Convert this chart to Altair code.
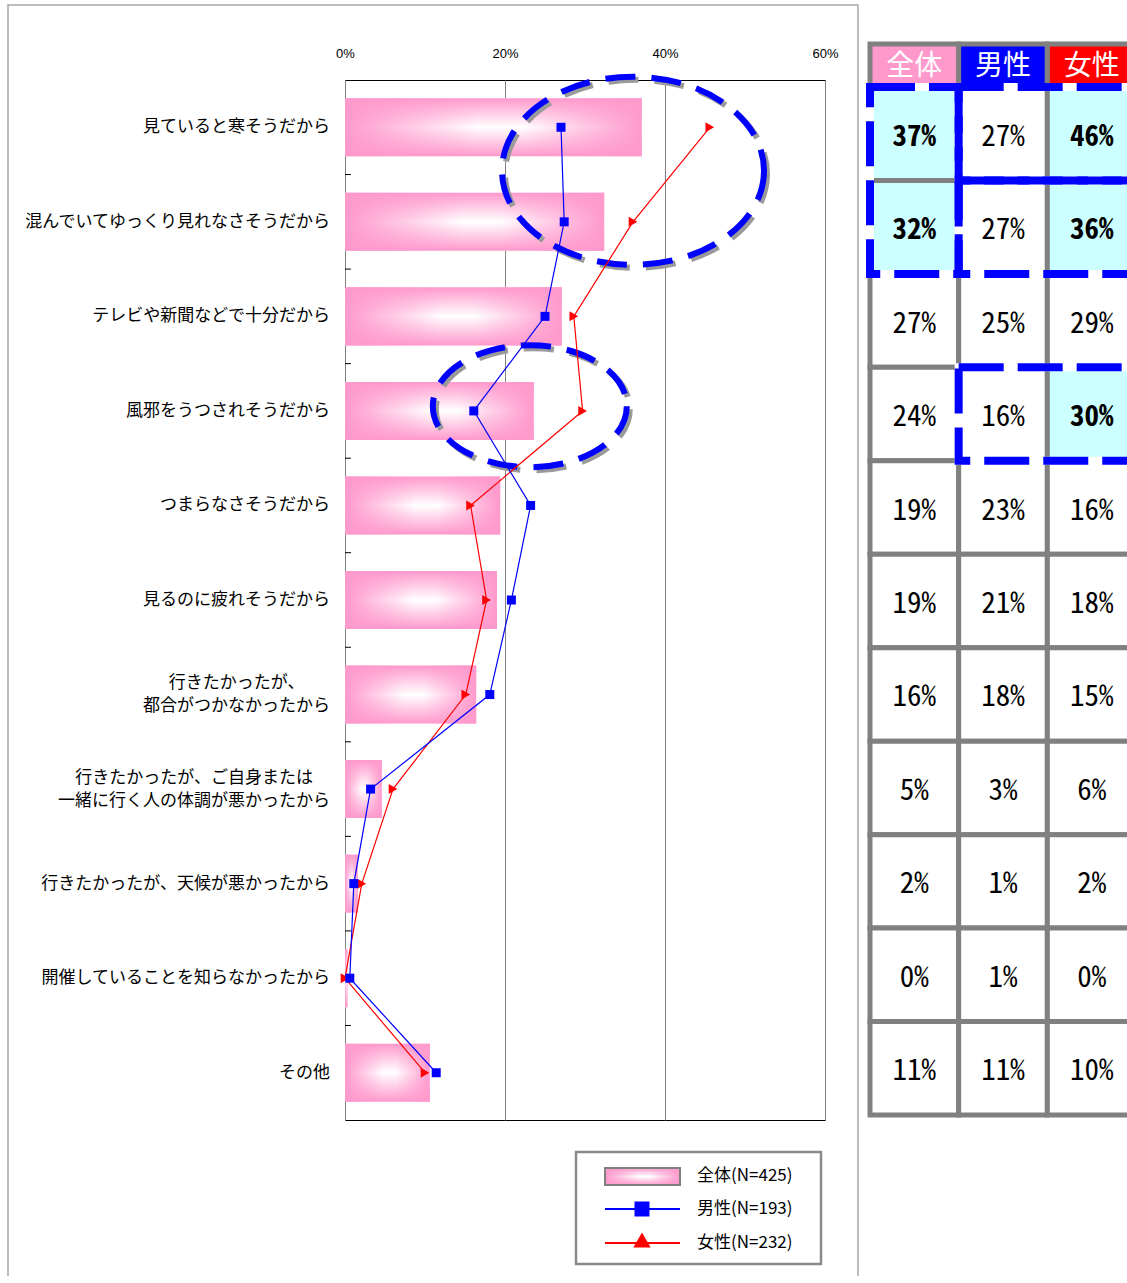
import altair as alt
import pandas as pd

# ---------------- data ----------------
categories = [
    "見ていると寒そうだから",
    "混んでいてゆっくり見れなさそうだから",
    "テレビや新聞などで十分だから",
    "風邪をうつされそうだから",
    "つまらなさそうだから",
    "見るのに疲れそうだから",
    "行きたかったが、\n都合がつかなかったから",
    "行きたかったが、ご自身または\n一緒に行く人の体調が悪かったから",
    "行きたかったが、天候が悪かったから",
    "開催していることを知らなかったから",
    "その他",
]
total = [37.1, 32.4, 27.1, 23.6, 19.4, 19.0, 16.4, 4.6, 1.6, 0.3, 10.6]
male = [27.0, 27.4, 25.0, 16.1, 23.2, 20.8, 18.1, 3.2, 1.1, 0.6, 11.4]
female = [45.6, 36.0, 28.6, 29.7, 15.7, 17.7, 15.1, 6.0, 2.1, 0.0, 10.0]
series = ["全体", "男性", "女性"]
sample_n = [425, 193, 232]
x_ticks = [0, 20, 40, 60]
highlight_threshold = 30

# ---------------- styles ----------------
JP = "Noto Sans CJK JP"
PINK = "#FF99CC"
BLUE = "#0000FF"
RED = "#FF0000"
GRAY = "#808080"
CYAN = "#CCFFFF"
NUM_FONT = "Noto Sans Mono CJK JP, Liberation Mono, monospace"
LABEL_SIZE = 17
LINE_H = 23
BAND_PX = 1040 / 11

grad_h = alt.LinearGradient(
    gradient="linear",
    stops=[
        alt.GradientStop(color=PINK, offset=0),
        alt.GradientStop(color="#FFFFFF", offset=0.45),
        alt.GradientStop(color="#FFFFFF", offset=0.6),
        alt.GradientStop(color=PINK, offset=1),
    ],
    x1=0, y1=0, x2=1, y2=0,
)
grad_v = alt.LinearGradient(
    gradient="linear",
    stops=[
        alt.GradientStop(color="rgba(255,153,204,1)", offset=0),
        alt.GradientStop(color="rgba(255,153,204,0)", offset=0.5),
        alt.GradientStop(color="rgba(255,153,204,1)", offset=1),
    ],
    x1=0, y1=0, x2=0, y2=1,
)

idx = list(range(len(categories)))
df_total = pd.DataFrame({"idx": idx, "v": total})
df_male = pd.DataFrame({"idx": idx, "v": male})
df_female = pd.DataFrame({"idx": idx, "v": female})
df_bound = pd.DataFrame({"b": [i + 0.5 for i in idx[:-1]]})
one = pd.DataFrame({"a": [0]})

x_scale = alt.Scale(domain=[0, 60], nice=False, zero=True)
y_scale = alt.Scale(domain=[-0.5, 10.5], reverse=True, nice=False, zero=False)

x_axis = alt.Axis(
    orient="top", values=x_ticks, labelExpr="datum.value + '%'", grid=True,
    gridColor=GRAY, gridWidth=1, ticks=False, domain=False, labelPadding=20,
    labelFontSize=13, labelFont="Liberation Sans", labelColor="black",
    labelFlush=False, title=None,
)

# outer chart-area frame
frame = alt.Chart(one).mark_rect(fill="transparent", stroke="#A6A6A6", strokeWidth=1.5).encode(
    x=alt.value(-337), x2=alt.value(513), y=alt.value(-75), y2=alt.value(1300)
)

bar_base = alt.Chart(df_total).transform_calculate(
    y0="datum.idx - 0.307", y1="datum.idx + 0.307", x0="0"
)
bars_h = bar_base.mark_rect(fill=grad_h).encode(
    x=alt.X("x0:Q", scale=x_scale, axis=x_axis),
    x2="v:Q",
    y=alt.Y("y0:Q", scale=y_scale, axis=None),
    y2="y1:Q",
)
bars_v = bar_base.mark_rect(fill=grad_v).encode(
    x=alt.X("x0:Q", title=None), x2="v:Q", y=alt.Y("y0:Q", title=None), y2="y1:Q"
)

yticks = alt.Chart(df_bound).mark_rule(color="black", strokeWidth=1).encode(
    x=alt.value(0), x2=alt.value(6), y=alt.Y("b:Q", title=None)
)

# category labels (multi-line labels centred as a block, right edge aligned)
label_rows = []
for i, cat in enumerate(categories):
    lines = cat.split("\n")
    n = len(lines)
    w = max(len(s) for s in lines)
    for j, s in enumerate(lines):
        label_rows.append({"idx": i, "off": j - (n - 1) / 2, "shift": (w - len(s)) / 2, "t": s})
df_labels = pd.DataFrame(label_rows)
label_layers = []
for sh in sorted(df_labels["shift"].unique()):
    label_layers.append(
        alt.Chart(df_labels[df_labels["shift"] == sh]).transform_calculate(
            yy=f"datum.idx + datum.off * {LINE_H / BAND_PX:.5f}"
        ).mark_text(
            align="right", baseline="middle", font=JP, fontSize=LABEL_SIZE, color="black",
            dx=-float(sh) * LABEL_SIZE,
        ).encode(x=alt.value(-15), y=alt.Y("yy:Q", title=None), text="t:N")
    )


def ellipse_path(rx, ry):
    k = ry / rx
    c = 0.5523
    return (
        f"M 1 0 C 1 {c*k:.4f} {c:.4f} {k:.4f} 0 {k:.4f} "
        f"C {-c:.4f} {k:.4f} -1 {c*k:.4f} -1 0 "
        f"C -1 {-c*k:.4f} {-c:.4f} {-k:.4f} 0 {-k:.4f} "
        f"C {c:.4f} {-k:.4f} 1 {-c*k:.4f} 1 0 Z"
    )


ellipses = []
for cx, cy, rx, ry in [(36.0, 0.46, 131, 94), (23.1, 2.95, 97, 61)]:
    d = pd.DataFrame({"cx": [cx], "cy": [cy]})
    for col, off in [("#9A9A9A", 3), (BLUE, 0)]:
        ellipses.append(
            alt.Chart(d).mark_point(
                shape=ellipse_path(rx, ry), size=(2 * rx) ** 2, filled=False,
                stroke=col, strokeWidth=6, strokeDash=[30, 16], opacity=1,
                xOffset=off, yOffset=off,
            ).encode(x=alt.X("cx:Q", title=None), y=alt.Y("cy:Q", title=None))
        )

line_f = alt.Chart(df_female).mark_line(color=RED, strokeWidth=1.2).encode(
    x=alt.X("v:Q", title=None), y=alt.Y("idx:Q", title=None), order="idx:Q"
)
pts_f = alt.Chart(df_female).mark_point(
    shape="triangle-right", filled=True, color=RED, size=100, opacity=1
).encode(x=alt.X("v:Q", title=None), y=alt.Y("idx:Q", title=None))
line_m = alt.Chart(df_male).mark_line(color=BLUE, strokeWidth=1.2).encode(
    x=alt.X("v:Q", title=None), y=alt.Y("idx:Q", title=None), order="idx:Q"
)
pts_m = alt.Chart(df_male).mark_point(
    shape="square", filled=True, color=BLUE, size=81, opacity=1
).encode(x=alt.X("v:Q", title=None), y=alt.Y("idx:Q", title=None))

# legend (drawn manually)
sw = dict(x=alt.value(260), x2=alt.value(335), y=alt.value(1088), y2=alt.value(1105))
leg = [
    alt.Chart(one).mark_rect(fill="white", stroke="#8A8A8A", strokeWidth=2.5).encode(
        x=alt.value(231), x2=alt.value(476), y=alt.value(1072), y2=alt.value(1184)
    ),
    alt.Chart(one).mark_rect(fill=grad_h).encode(**sw),
    alt.Chart(one).mark_rect(fill=grad_v, stroke=GRAY, strokeWidth=2).encode(**sw),
    alt.Chart(one).mark_rule(color=BLUE, strokeWidth=2).encode(
        x=alt.value(260), x2=alt.value(335), y=alt.value(1129)
    ),
    alt.Chart(one).mark_point(shape="square", filled=True, color=BLUE, size=225, opacity=1).encode(
        x=alt.value(297), y=alt.value(1129)
    ),
    alt.Chart(one).mark_rule(color=RED, strokeWidth=2).encode(
        x=alt.value(260), x2=alt.value(335), y=alt.value(1163)
    ),
    alt.Chart(one).mark_point(shape="triangle-up", filled=True, color=RED, size=300, opacity=1).encode(
        x=alt.value(297), y=alt.value(1160)
    ),
]
for s, n, yy in zip(series, sample_n, [1096, 1129, 1163]):
    leg.append(
        alt.Chart(pd.DataFrame({"t": [f"{s}(N={n})"]})).mark_text(
            align="left", baseline="middle", font=JP, fontSize=17, color="black"
        ).encode(text="t:N", x=alt.value(352), y=alt.value(yy))
    )

main = alt.layer(frame, bars_h, bars_v, yticks, *label_layers, *ellipses,
                 line_f, pts_f, line_m, pts_m, *leg)

# ---------------- table ----------------
tx = alt.Scale(domain=[0, 3], range=[525, 791], nice=False, zero=False)
ty = alt.Scale(domain=[0, 11], range=[7, 1035], nice=False, zero=False)

rows = []
for ci, vals in enumerate([total, male, female]):
    for ri, v in enumerate(vals):
        rows.append({"col": ci, "row": ri, "v": v})
df_cells = pd.DataFrame(rows)
df_head = pd.DataFrame({"col": [0, 1, 2], "name": series})

head_rect = alt.Chart(df_head).transform_calculate(c2="datum.col + 1").mark_rect(
    stroke=GRAY, strokeWidth=5
).encode(
    x=alt.X("col:Q", scale=tx, axis=None), x2="c2:Q",
    y=alt.value(-36), y2=alt.value(7),
    fill=alt.Fill("name:N", scale=alt.Scale(domain=series, range=[PINK, BLUE, RED]), legend=None),
)
head_text = alt.Chart(df_head).transform_calculate(cx="datum.col + 0.5").mark_text(
    font=JP, fontSize=28, color="white", baseline="middle", align="center"
).encode(x=alt.X("cx:Q", scale=tx, axis=None), y=alt.value(-13), text="name:N")

hl = f"round(datum.v) >= {highlight_threshold}"
cells = alt.Chart(df_cells).transform_calculate(
    c2="datum.col + 1", r2="datum.row + 1"
).mark_rect(stroke=GRAY, strokeWidth=5).encode(
    x=alt.X("col:Q", scale=tx, axis=None), x2="c2:Q",
    y=alt.Y("row:Q", scale=ty, axis=None), y2="r2:Q",
    fill=alt.condition(hl, alt.value(CYAN), alt.value("white")),
)


def cell_text(bold):
    return alt.Chart(df_cells).transform_calculate(
        cx="datum.col + 0.5", cy="datum.row + 0.5",
        t="format(datum.v, '.0f') + '%'"
    ).transform_filter(hl if bold else f"!({hl})").mark_text(
        font=NUM_FONT, fontSize=29, fontWeight="bold" if bold else "normal",
        color="black", baseline="middle", align="center", dy=3,
    ).encode(
        x=alt.X("cx:Q", scale=tx, axis=None), y=alt.Y("cy:Q", scale=ty, axis=None), text="t:N"
    )


df_box = pd.DataFrame({
    "x0": [0, 1, 1, 1], "x1": [1, 3.2, 3.2, 3.2],
    "y0": [0, 0, 1, 3], "y1": [2, 1, 2, 4],
})
box_under = alt.Chart(df_box).mark_rect(fill="transparent", stroke="white", strokeWidth=8).encode(
    x=alt.X("x0:Q", scale=tx, axis=None), x2="x1:Q",
    y=alt.Y("y0:Q", scale=ty, axis=None), y2="y1:Q",
)
box = alt.Chart(df_box).mark_rect(
    fill="transparent", stroke=BLUE, strokeWidth=8, strokeDash=[45, 14]
).encode(
    x=alt.X("x0:Q", scale=tx, axis=None), x2="x1:Q",
    y=alt.Y("y0:Q", scale=ty, axis=None), y2="y1:Q",
)

table = alt.layer(head_rect, cells, head_text, cell_text(False), cell_text(True), box_under, box)

chart = alt.layer(main, table).resolve_scale(x="independent", y="independent").properties(
    width=480, height=1040,
    padding={"left": 345, "top": 80, "right": 302, "bottom": 156},
    autosize=alt.AutoSizeParams(type="none"),
    background="white",
).configure_view(stroke="black", strokeWidth=1)

chart.save("out.html", embed_options={"renderer": "svg", "actions": False})
